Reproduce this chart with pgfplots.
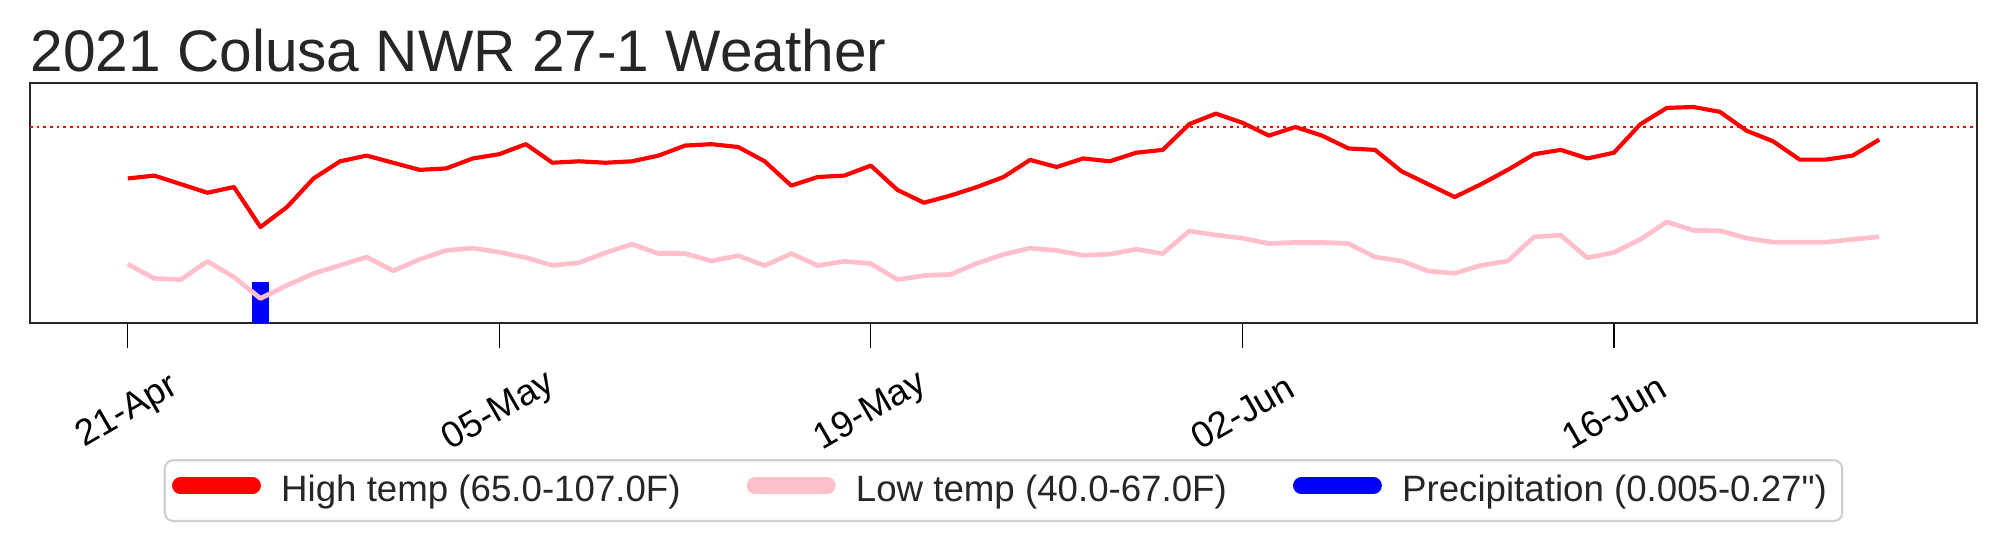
\documentclass[border=0pt]{standalone}
\usepackage{pgfplots}
\pgfplotsset{compat=1.18}
\usepackage{fontspec}
\setmainfont{Liberation Sans}
\newfontfamily\plainfont{Liberation Sans}
\definecolor{hi}{HTML}{FF0000}
\definecolor{lo}{HTML}{FFC0CB}
\definecolor{pr}{HTML}{0000FF}
\definecolor{txt}{HTML}{262626}
\begin{document}
\begin{tikzpicture}
\begin{axis}[
  name=ax,
  scale only axis,
  width=700.9pt, height=86.4pt,
  xmin=-3.685, xmax=69.685,
  ymin=31.4, ymax=115.4,
  ytick=\empty,
  xtick={0,14,28,42,56},
  xticklabels={21-Apr,05-May,19-May,02-Jun,16-Jun},
  xtick pos=bottom,
  tick align=outside,
  major tick length=9pt,
  tick style={black, line width=0.45pt},
  axis line style={txt, line width=0.6pt},
  xticklabel style={yshift=-23pt, rotate=30, anchor=center, font=\fontsize{13.2}{15.8}\selectfont, text=black},
  title={2021 Colusa NWR 27-1 Weather},
  title style={at={(0,1)}, anchor=base west, yshift=-1.7pt, inner sep=0pt, font=\fontsize{21.1}{25}\selectfont, text=txt},
  legend columns=3,
  legend image code/.code={\draw[line width=6pt, line cap=round, #1] (0pt,1.8pt) -- (26pt,1.8pt);},
  legend style={at={(0.5,0)}, anchor=north, yshift=-49pt,
    draw=black!18, line width=0.8pt, rounded corners=3pt,
    inner xsep=2.6pt, inner ysep=5.4pt,
    font=\fontsize{13.2}{15.8}\selectfont, text=txt,
    nodes={inner sep=0pt},
    /tikz/every odd column/.style={column sep=7.3pt},
    /tikz/every even column/.style={column sep=23.8pt}},
]
% precipitation bar
\addplot[forget plot, ybar, bar width=0.65, fill=pr, draw=none] coordinates {(5,45.7)};
% 100F reference line
\addplot[forget plot, hi, line width=0.9pt, dash pattern=on 0.9pt off 1.5pt] coordinates {(-3.685,100) (69.685,100)};
% high temp
\addplot[forget plot, hi, line width=1.5pt, line join=round] table {
0 82
1 83
2 80
3 77
4 79
5 65
6 72
7 82
8 88
9 90
10 87.5
11 85
12 85.5
13 89
14 90.5
15 94
16 87.5
17 88
18 87.5
19 88
20 90
21 93.5
22 94
23 93
24 88
25 79.5
26 82.5
27 83
28 86.5
29 78
30 73.5
31 76
32 79
33 82.5
34 88.5
35 86
36 89
37 88
38 91
39 92
40 101
41 104.7
42 101.5
43 97
44 100
45 97
46 92.5
47 92
48 84.5
49 80
50 75.5
51 80
52 85
53 90.5
54 92
55 89
56 91
57 101
58 106.7
59 107
60 105.3
61 98.7
62 95
63 88.6
64 88.6
65 90
66 95.6
};
% low temp
\addplot[forget plot, lo, line width=1.7pt, line join=round] table {
0 52
1 47
2 46.6
3 53
4 47.5
5 40
6 44.6
7 48.7
8 51.6
9 54.5
10 49.7
11 53.7
12 56.8
13 57.6
14 56.2
15 54.3
16 51.6
17 52.5
18 56
19 59
20 55.7
21 55.7
22 53.1
23 55
24 51.5
25 55.7
26 51.5
27 53
28 52.2
29 46.6
30 48
31 48.4
32 52.3
33 55.4
34 57.6
35 56.8
36 55.1
37 55.5
38 57.2
39 55.7
40 63.6
41 62.2
42 61.1
43 59.2
44 59.6
45 59.6
46 59.2
47 54.5
48 53.1
49 49.6
50 48.8
51 51.6
52 53.1
53 61.6
54 62.1
55 54.2
56 56.1
57 60.7
58 66.8
59 63.8
60 63.7
61 61.1
62 59.7
63 59.7
64 59.7
65 60.7
66 61.6
};
\addlegendimage{hi}
\addlegendentry{High temp (65.0-107.0F)}
\addlegendimage{lo}
\addlegendentry{Low temp (40.0-67.0F)}
\addlegendimage{pr}
\addlegendentry{Precipitation (0.005-0.27{\plainfont"})\hspace*{2.9pt}}
\end{axis}
\path ([shift={(-10.8pt,-83.52pt)}]ax.south west) rectangle ([shift={(11.88pt,29.88pt)}]ax.north east);
\end{tikzpicture}
\end{document}
